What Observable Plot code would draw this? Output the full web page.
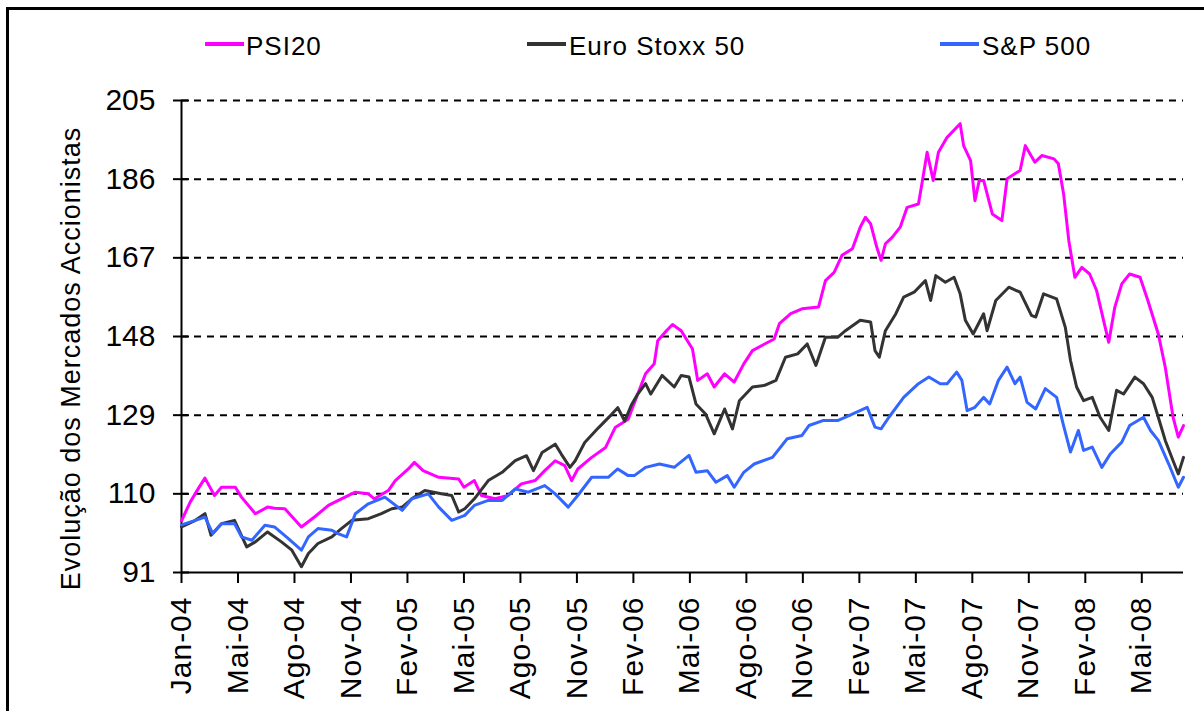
<!DOCTYPE html>
<html>
<head>
<meta charset="utf-8">
<script src="https://cdn.jsdelivr.net/npm/d3@7"></script>
<script src="https://cdn.jsdelivr.net/npm/@observablehq/plot@0.6"></script>
<style>
  html, body { margin: 0; padding: 0; background: #fff; }
  body { width: 1204px; height: 711px; overflow: hidden; position: relative; font-family: "Liberation Sans", Arial, sans-serif; }
  #frame { position: absolute; left: 6px; top: 7px; width: 1300px; height: 800px; border-left: 3px solid #000; border-top: 3px solid #000; pointer-events: none; }
  #legend { position: relative; height: 80px; }
  .sw { position: absolute; height: 4px; width: 39px; top: 42px; }
  .lt { position: absolute; top: 31px; font-size: 26px; letter-spacing: 1px; color: #000; line-height: 30px; }
  #chart svg { display: block; }
  #chart svg text { letter-spacing: 1px; }
  #chart g[aria-label="y-axis tick label"] text { letter-spacing: 0px; }
</style>
</head>
<body>
<div id="legend"></div>
<div id="chart"></div>
<div id="frame"></div>
<script>
// Trading-day index (0 = early Jan 2004) and index level (base ~100)
const psi20 = [
  [0,103.5],[10,108],[20,111.5],[27,113.8],[33,111.5],[38,109.6],[46,111.6],[62,111.6],[69,109.2],[85,105.2],
  [99,106.8],[107,106.5],[119,106.4],[127,104.5],[138,102],[153,104.4],[169,107.2],[184,108.8],[200,110.4],[215,110],
  [222,108.8],[238,110.8],[246,113.2],[261,116],[268,117.6],[278,115.6],[296,114],[319,113.6],[325,111.6],[337,113.2],
  [345,109.6],[361,108.8],[376,109.6],[391,112.4],[407,113.2],[418,115.6],[430,118],[441,116.8],[449,113.2],[456,116],
  [472,118.8],[488,121.2],[499,126],[514,128],[525,134.1],[534,139],[544,141.4],[548,147],[558,149.4],[565,150.9],
  [575,149.4],[588,145],[594,137.4],[605,139],[613,135.8],[625,139],[636,137],[647,141.4],[657,144.6],[671,146.2],
  [682,147.4],[688,151.1],[701,153.5],[714,154.7],[733,155.1],[741,161.5],[751,163.5],[760,167.6],[772,169.2],[781,174.4],
  [787,176.8],[793,175.2],[800,169.6],[805,166.4],[810,170.4],[818,172],[827,174.4],[835,179.2],[848,180],[852,184.9],
  [858,192.5],[865,185.7],[871,192.5],[881,196.1],[896,199.4],[900,194.1],[908,190.5],[913,180.8],[918,185.7],[923,185.7],
  [933,177.6],[944,176],[950,186.1],[965,188.1],[971,194.1],[982,190.1],[990,191.7],[1004,190.9],[1009,189.7],[1015,182.5],
  [1021,171.2],[1028,162.3],[1036,164.7],[1045,163.1],[1053,159.1],[1061,151.9],[1067,146.6],[1074,155.1],[1082,160.7],[1091,163.1],
  [1103,162.3],[1112,156.7],[1124,148.6],[1132,140.6],[1141,128.5],[1147,123.7],[1153,126.5]
];
const euroStoxx50 = [
  [0,102],[16,103.6],[27,105.2],[34,100],[46,102.8],[61,103.6],[75,97.2],[85,98.4],[99,100.8],[115,98.4],
  [127,96.4],[138,92.4],[146,95.6],[157,98],[173,99.6],[184,101.6],[196,103.6],[215,104],[230,105.2],[242,106.4],
  [254,106.8],[265,108.8],[280,110.8],[299,110],[311,109.6],[319,105.6],[326,106.4],[337,108.8],[353,113.2],[369,115.2],
  [384,118],[397,119.2],[405,115.6],[415,120],[430,122],[437,119.6],[447,116.4],[453,118],[464,122.4],[480,126],
  [495,129.2],[502,130.8],[510,127.6],[518,131.6],[525,134.1],[534,136.6],[540,134.1],[553,138.6],[567,135.8],[575,138.6],
  [584,138.2],[592,131.7],[603,129.3],[613,124.5],[625,130.5],[634,125.7],[642,132.5],[657,135.8],[671,136.2],[684,137.4],
  [695,143],[709,143.8],[720,146.2],[730,141],[741,147.8],[755,147.8],[764,149.4],[781,151.9],[793,151.5],[798,144.6],
  [803,143],[810,149.4],[822,153.5],[831,157.5],[843,158.7],[856,161.5],[862,156.7],[868,162.7],[879,161.1],[889,162.3],
  [896,158.3],[902,151.9],[911,148.6],[923,153.5],[927,149.4],[937,156.7],[952,159.9],[965,158.7],[978,153.1],[983,152.7],
  [992,158.3],[1007,157.1],[1017,150.2],[1023,142.2],[1030,135.8],[1038,132.5],[1048,133.3],[1057,128.5],[1067,125.3],[1076,135],
  [1084,134.1],[1097,138.2],[1107,136.6],[1117,133.3],[1124,128.5],[1132,122.9],[1141,118],[1147,114.8],[1153,118.8]
];
const sp500 = [
  [0,102.5],[16,103.6],[27,104.4],[36,100.4],[46,102.8],[61,102.8],[69,99.6],[81,98.8],[96,102.4],[107,102],
  [123,99.2],[138,96.4],[146,99.6],[157,101.6],[173,101.2],[180,100.4],[190,99.6],[200,105.2],[215,107.6],[234,109.2],
  [254,106],[265,108.8],[284,110],[296,106.8],[311,103.6],[326,104.8],[337,107.2],[353,108.4],[369,108.4],[384,111.2],
  [399,110.4],[418,112],[430,110],[445,106.8],[456,109.6],[472,114],[491,114],[502,116],[514,114.4],[521,114.4],
  [534,116.4],[550,117.2],[567,116.4],[584,119.3],[592,115.2],[605,115.6],[615,112.8],[628,114.4],[636,111.6],[647,115.2],
  [659,117.2],[680,118.8],[697,123.3],[714,124.1],[722,126.5],[738,127.7],[755,127.7],[768,128.9],[789,130.9],[798,126.1],
  [805,125.7],[814,128.5],[831,133.3],[848,136.6],[860,138.2],[873,136.6],[881,136.6],[892,139.4],[898,137.4],[904,130.1],
  [913,130.9],[923,133.3],[930,131.7],[940,137.4],[950,140.6],[959,136.6],[965,138.2],[973,132.1],[983,130.5],[994,135.4],
  [1007,133.3],[1015,126.5],[1023,120.1],[1032,125.3],[1038,120.5],[1048,121.3],[1059,116.4],[1069,119.7],[1082,122.5],[1091,126.5],
  [1107,128.5],[1115,125.3],[1124,122.9],[1136,117.2],[1147,111.6],[1153,114]
];

const seriesNames = ["PSI20", "Euro Stoxx 50", "S&P 500"];
const seriesColors = ["#ff00ff", "#333333", "#3366ff"];
const seriesData = [psi20, euroStoxx50, sp500];

const tickDays = [0,65,130,195,260,325,390,455,520,585,650,715,780,845,910,975,1040,1105];
const tickLabels = ["Jan-04","Mai-04","Ago-04","Nov-04","Fev-05","Mai-05","Ago-05","Nov-05","Fev-06","Mai-06","Ago-06","Nov-06","Fev-07","Mai-07","Ago-07","Nov-07","Fev-08","Mai-08"];
const yTicks = [91,110,129,148,167,186,205];
const yTitle = "Evolução dos Mercados Accionistas";

// Legend (HTML above the SVG)
const legendPos = [[205,246],[527,569],[940,982]];
const legend = document.getElementById("legend");
seriesNames.forEach((name, i) => {
  const sw = document.createElement("div");
  sw.className = "sw";
  sw.style.left = legendPos[i][0] + "px";
  sw.style.background = seriesColors[i];
  legend.appendChild(sw);
  const t = document.createElement("div");
  t.className = "lt";
  t.style.left = legendPos[i][1] + "px";
  t.textContent = name;
  legend.appendChild(t);
});

const rows = [];
seriesData.forEach((arr, i) => arr.forEach(([d, v]) => rows.push({series: seriesNames[i], day: d, value: v})));

const font = '"Liberation Sans", Arial, sans-serif';

const chart = Plot.plot({
  width: 1204,
  height: 631,
  marginLeft: 181,
  marginRight: 21,
  marginTop: 20,
  marginBottom: 139,
  style: {fontFamily: font, background: "transparent", color: "#000"},
  x: {domain: [0, 1153]},
  y: {domain: [91, 205]},
  color: {domain: seriesNames, range: seriesColors},
  marks: [
    Plot.gridY(yTicks.filter(t => t > 91), {stroke: "#000", strokeOpacity: 1, strokeWidth: 2, strokeDasharray: "7,6"}),
    Plot.ruleX([0], {stroke: "#000", strokeWidth: 2}),
    Plot.ruleY([91], {stroke: "#000", strokeWidth: 2}),
    Plot.axisY({ticks: yTicks, tickSize: 8, tickPadding: 18, fontSize: 30, label: null, stroke: "#000", strokeWidth: 2, tickFormat: d => String(d)}),
    Plot.axisY({ticks: yTicks, tickSize: 8, dx: 8, label: null, stroke: "#000", strokeWidth: 2, tickFormat: () => ""}),
    Plot.axisX({ticks: tickDays, tickSize: 11, tickPadding: 13, tickRotate: -90, fontSize: 30, label: null, stroke: "#000", strokeWidth: 2, tickFormat: (d) => tickLabels[tickDays.indexOf(d)]}),
    Plot.text([yTitle], {frameAnchor: "left", rotate: -90, dx: -110, dy: 22, fontSize: 27, fill: "#000", textAnchor: "middle"}),
    Plot.line(rows, {x: "day", y: "value", z: "series", stroke: "series", strokeWidth: 3, curve: "linear"})
  ]
});
document.getElementById("chart").appendChild(chart);
</script>
</body>
</html>
